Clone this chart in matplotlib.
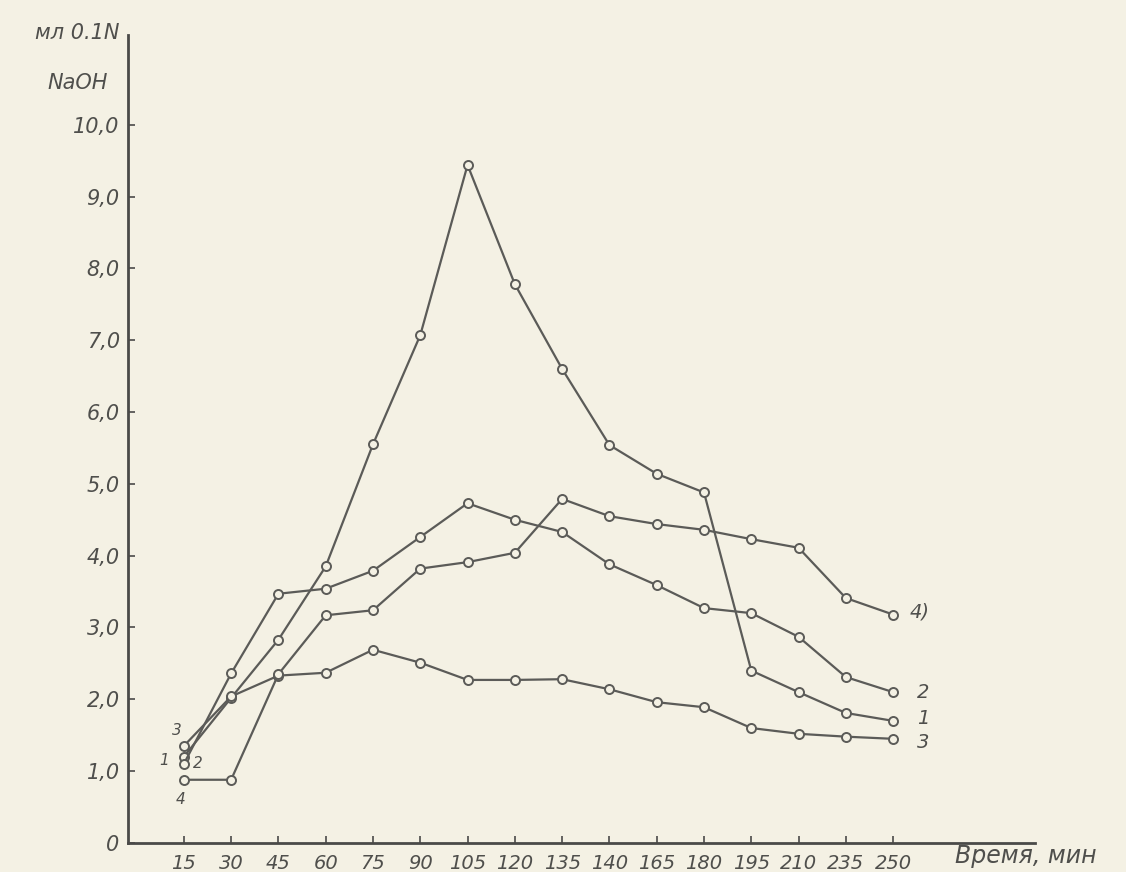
import numpy as np
import matplotlib.pyplot as plt

# time points (labels copied as printed, incl. "140" and "235")
time_labels = ["15", "30", "45", "60", "75", "90", "105", "120", "135",
               "140", "165", "180", "195", "210", "235", "250"]

curve_1 = [1.20, 2.02, 2.83, 3.85, 5.55, 7.07, 9.44, 7.78, 6.60, 5.54,
           5.14, 4.88, 2.40, 2.10, 1.81, 1.70]
curve_2 = [1.10, 2.36, 3.47, 3.54, 3.79, 4.26, 4.73, 4.50, 4.33, 3.88,
           3.59, 3.27, 3.20, 2.87, 2.31, 2.10]
curve_3 = [1.35, 2.04, 2.33, 2.37, 2.69, 2.51, 2.27, 2.27, 2.28, 2.14,
           1.96, 1.89, 1.60, 1.52, 1.48, 1.45]
curve_4 = [0.88, 0.88, 2.35, 3.17, 3.24, 3.82, 3.91, 4.04, 4.79, 4.55,
           4.44, 4.36, 4.23, 4.11, 3.41, 3.18]

y_ticks = np.arange(0, 11)
y_labels = ["0"] + [f"{v},0" for v in range(1, 11)]

paper = "#f4f1e4"
ink = "#5b5b58"
txt = "#4f4f4c"
font = ["Liberation Sans Narrow", "DejaVu Sans"]

fig = plt.figure(figsize=(11.26, 8.72), dpi=100, facecolor=paper)
ax = fig.add_axes([0.1137, 0.0333, 0.8055, 0.9266], facecolor=paper)

x = np.arange(len(time_labels))
for ys in (curve_1, curve_2, curve_3, curve_4):
    ax.plot(x, ys, color=ink, lw=1.6, marker="o", ms=6.5,
            mfc=paper, mec=ink, mew=1.4)

ax.set_xlim(-1.18, 18.0)
ax.set_ylim(0, 11.25)

for s in ("top", "right"):
    ax.spines[s].set_visible(False)
for s in ("left", "bottom"):
    ax.spines[s].set_color("#4a4a48")
    ax.spines[s].set_linewidth(2.0)

ax.set_xticks(x)
ax.set_xticklabels(time_labels, fontsize=14, style="italic", family=font,
                   color=txt)
ax.set_yticks(y_ticks)
ax.set_yticklabels(y_labels, fontsize=15, style="italic", family=font,
                   color=txt)
ax.tick_params(axis="both", direction="in", length=5, width=1.2,
               color="#4a4a48")
ax.tick_params(axis="x", pad=8)
ax.tick_params(axis="y", pad=6)

# axis titles
fig.text(0.031, 0.962, "мл 0.1N", fontsize=15, style="italic", family=font,
         color=txt, ha="left", va="center")
fig.text(0.042, 0.905, "NaOH", fontsize=15, style="italic", family=font,
         color=txt, ha="left", va="center")
fig.text(0.848, 0.018, "Время, мин", fontsize=17, style="italic", family=font,
         color=txt, ha="left", va="center")

# curve numbers at the ends
end_labels = [("4)", curve_4, 12, 2), ("2", curve_2, 17, 0),
              ("1", curve_1, 17, 2), ("3", curve_3, 17, -3)]
for name, ys, dx, dy in end_labels:
    ax.annotate(name, (x[-1], ys[-1]), xytext=(dx, dy),
                textcoords="offset points", fontsize=14, style="italic",
                family=font, color=txt, va="center")

# curve numbers at the start
start_labels = [("3", curve_3, -5, 11), ("1", curve_1, -14, -3),
                ("2", curve_2, 10, 0), ("4", curve_4, -2, -14)]
for name, ys, dx, dy in start_labels:
    ax.annotate(name, (x[0], ys[0]), xytext=(dx, dy),
                textcoords="offset points", fontsize=11, style="italic",
                family=font, color=txt, ha="center", va="center")

fig.savefig("out.png", dpi=100, facecolor=paper)
